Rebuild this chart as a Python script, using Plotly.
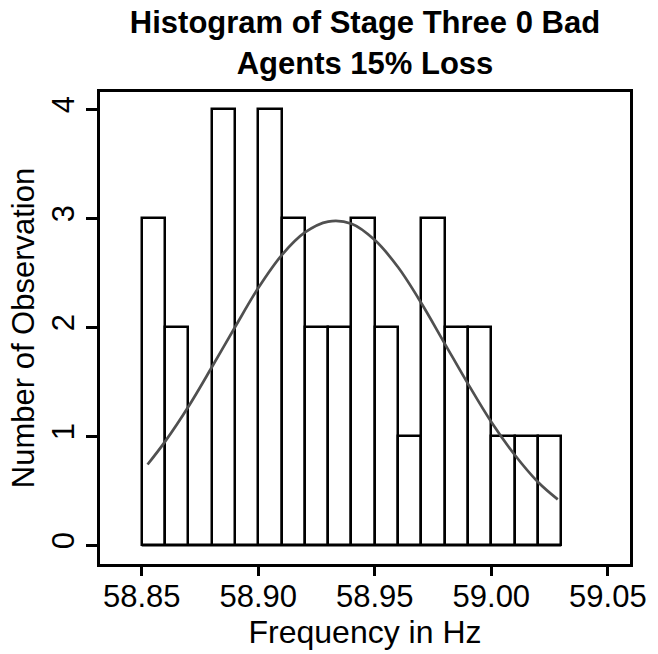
import plotly.graph_objects as go

# Histogram bins (left edges) and counts
bin_left = [58.85, 58.86, 58.87, 58.88, 58.89, 58.90, 58.91, 58.92, 58.93,
            58.94, 58.95, 58.96, 58.97, 58.98, 58.99, 59.00, 59.01, 59.02]
counts = [3, 2, 0, 4, 0, 4, 3, 2, 2, 3, 2, 1, 3, 2, 2, 1, 1, 1]
bin_width = 0.01

# Normal curve overlay
curve_x = [58.8525, 58.86, 58.87, 58.88, 58.89, 58.90, 58.91, 58.92, 58.93, 58.94,
           58.95, 58.96, 58.97, 58.98, 58.99, 59.00, 59.01, 59.02, 59.0285]
curve_y = [0.74, 0.95, 1.27, 1.63, 2.00, 2.36, 2.66, 2.87, 2.97, 2.95,
           2.80, 2.55, 2.22, 1.85, 1.48, 1.13, 0.83, 0.58, 0.42]

x_ticks = [58.85, 58.90, 58.95, 59.00, 59.05]
x_tick_labels = ["58.85", "58.90", "58.95", "59.00", "59.05"]
y_ticks = [0, 1, 2, 3, 4]

centers = [b + bin_width / 2 for b in bin_left]
hist_lo = bin_left[0]
hist_hi = bin_left[-1] + bin_width

FONT = "Liberation Sans, Arial, sans-serif"

fig = go.Figure()
# baseline under the bars (covers empty bins)
fig.add_trace(go.Scatter(x=[hist_lo, hist_hi], y=[0, 0], mode="lines",
                         line=dict(color="black", width=2.5), hoverinfo="skip",
                         showlegend=False))
fig.add_trace(go.Bar(x=centers, y=counts, width=bin_width,
                     marker=dict(color="white", line=dict(color="black", width=2.5)),
                     showlegend=False))
fig.add_trace(go.Scatter(x=curve_x, y=curve_y, mode="lines",
                         line=dict(color="#505050", width=2.7, shape="spline"),
                         showlegend=False))

fig.update_layout(
    width=658, height=654,
    margin=dict(l=100, r=20, t=92, b=82),
    paper_bgcolor="white", plot_bgcolor="white",
    bargap=0,
    title=dict(text="<b>Histogram of Stage Three 0 Bad<br>Agents 15% Loss</b>",
               x=0.5, xref="paper", xanchor="center",
               y=0.949, yref="container", yanchor="top",
               font=dict(family=FONT, size=31, color="black")),
    font=dict(family=FONT, color="black"),
)
fig.update_xaxes(range=[58.8321, 59.0595], tickvals=x_ticks, ticktext=x_tick_labels,
                 ticks="outside", ticklen=9, tickwidth=2.5, tickcolor="black",
                 showline=True, linecolor="black", linewidth=3, mirror=True,
                 showgrid=False, zeroline=False,
                 tickfont=dict(size=31), ticklabelstandoff=-6,
                 title=dict(text="Frequency in Hz", font=dict(size=32), standoff=5))
fig.update_yaxes(range=[-0.173, 4.159], tickvals=y_ticks,
                 ticks="outside", ticklen=11, tickwidth=2.5, tickcolor="black",
                 showline=True, linecolor="black", linewidth=3, mirror=True,
                 showgrid=False, zeroline=False, tickangle=-90,
                 tickfont=dict(size=31),
                 title=dict(text="Number of Observation", font=dict(size=31), standoff=2))

fig.write_html("out.html", config={"displayModeBar": False},
               post_script="document.body.style.margin='0px';document.body.style.padding='0px';")
